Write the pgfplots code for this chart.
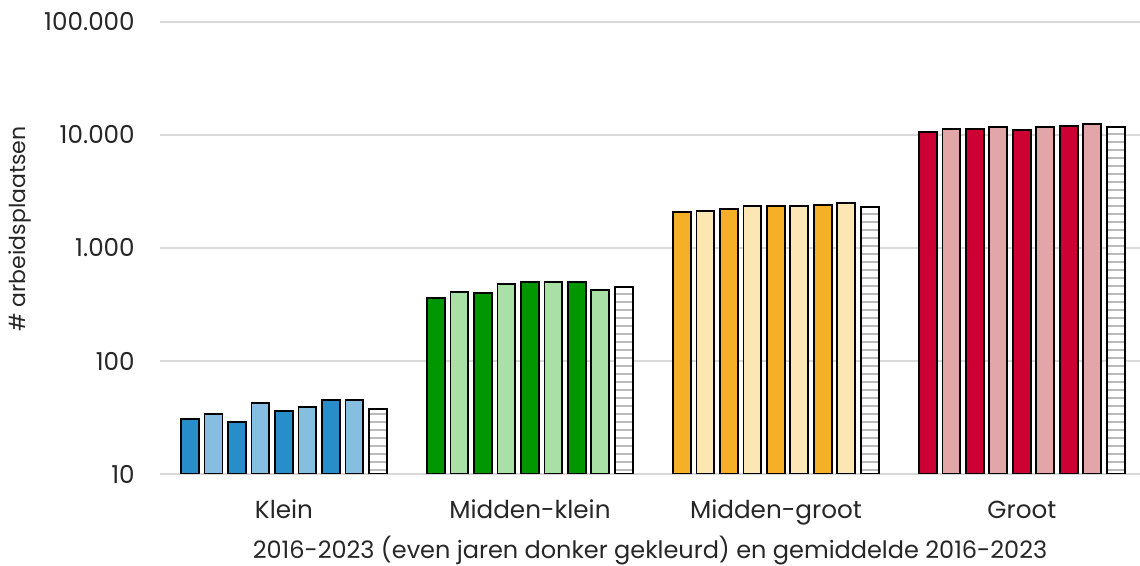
\documentclass[border=0pt]{standalone}
\usepackage{pgfplots}
\pgfplotsset{compat=1.18}
\usepackage{fontspec}
\setmainfont{Poppins}
\usetikzlibrary{patterns.meta}

\definecolor{bluedark}{RGB}{40,142,201}
\definecolor{bluelight}{RGB}{133,190,224}
\definecolor{greendark}{RGB}{0,150,0}
\definecolor{greenlight}{RGB}{168,224,165}
\definecolor{orangedark}{RGB}{245,176,39}
\definecolor{orangelight}{RGB}{252,230,180}
\definecolor{reddark}{RGB}{204,0,51}
\definecolor{redlight}{RGB}{226,165,168}

\begin{document}
\begin{tikzpicture}
\useasboundingbox (-120pt,-69pt) rectangle (735pt,355.5pt);
\begin{axis}[
  at={(0,0)}, anchor=south west,
  scale only axis, width=735pt, height=339pt,
  ymode=log, log origin=infty,
  ymin=10, ymax=100000,
  xmin=-0.504, xmax=3.48,
  ytick={10,100,1000,10000,100000},
  yticklabels={10,100,1.000,10.000,100.000},
  minor ytick={},
  xtick={0,1,2,3},
  xticklabels={Klein,Midden-klein,Midden-groot,Groot},
  major tick length=0pt, minor tick length=0pt,
  tick style={draw=none},
  axis line style={draw=none},
  ymajorgrids, grid style={gray!30, line width=0.9pt},
  /pgf/number format/assume math mode=true,
  tick label style={font=\fontsize{18.5}{21}\selectfont, text=black!85},
  label style={font=\fontsize{18}{21}\selectfont, text=black!85},
  yticklabel style={anchor=east, inner sep=0pt, xshift=-18.75pt},
  xticklabel style={anchor=base, inner sep=0pt, yshift=-33.4pt},
  xlabel={2016-2023 (even jaren donker gekleurd) en gemiddelde 2016-2023},
  ylabel={\# arbeidsplaatsen},
  xlabel style={at={(axis description cs:0.5,0)}, anchor=center, yshift=-57.75pt},
  ylabel style={at={(axis description cs:-0.1429,0.542)}, anchor=center, font=\fontsize{16.5}{19}\selectfont},
  ybar, bar width=0.073, bar shift=0pt,
  every axis plot/.append style={draw=black, line width=1.45pt},
]
% Klein
\addplot[fill=bluedark] coordinates {(-0.382,30.9) (-0.191,28.8) (0,36.1) (0.191,45.2)};
\addplot[fill=bluelight] coordinates {(-0.2865,34.2) (-0.0955,42.2) (0.0955,39.2) (0.2865,44.9)};
\addplot[fill=white, postaction={pattern={Lines[angle=0,distance=6pt,line width=1pt]}, pattern color=gray!55}] coordinates {(0.382,37.8)};
% Midden-klein
\addplot[fill=greendark] coordinates {(0.618,361) (0.809,402) (1,503) (1.191,497)};
\addplot[fill=greenlight] coordinates {(0.7135,408) (0.9045,477) (1.0955,503) (1.2865,422)};
\addplot[fill=white, postaction={pattern={Lines[angle=0,distance=6pt,line width=1pt]}, pattern color=gray!55}] coordinates {(1.382,452)};
% Midden-groot
\addplot[fill=orangedark] coordinates {(1.618,2084) (1.809,2214) (2,2339) (2.191,2388)};
\addplot[fill=orangelight] coordinates {(1.7135,2113) (1.9045,2339) (2.0955,2339) (2.2865,2518)};
\addplot[fill=white, postaction={pattern={Lines[angle=0,distance=6pt,line width=1pt]}, pattern color=gray!55}] coordinates {(2.382,2292)};
% Groot
\addplot[fill=reddark] coordinates {(2.618,10640) (2.809,11380) (3,11010) (3.191,12080)};
\addplot[fill=redlight] coordinates {(2.7135,11380) (2.9045,11850) (3.0955,11700) (3.2865,12500)};
\addplot[fill=white, postaction={pattern={Lines[angle=0,distance=6pt,line width=1pt]}, pattern color=gray!55}] coordinates {(3.382,11700)};
\end{axis}
\end{tikzpicture}
\end{document}
